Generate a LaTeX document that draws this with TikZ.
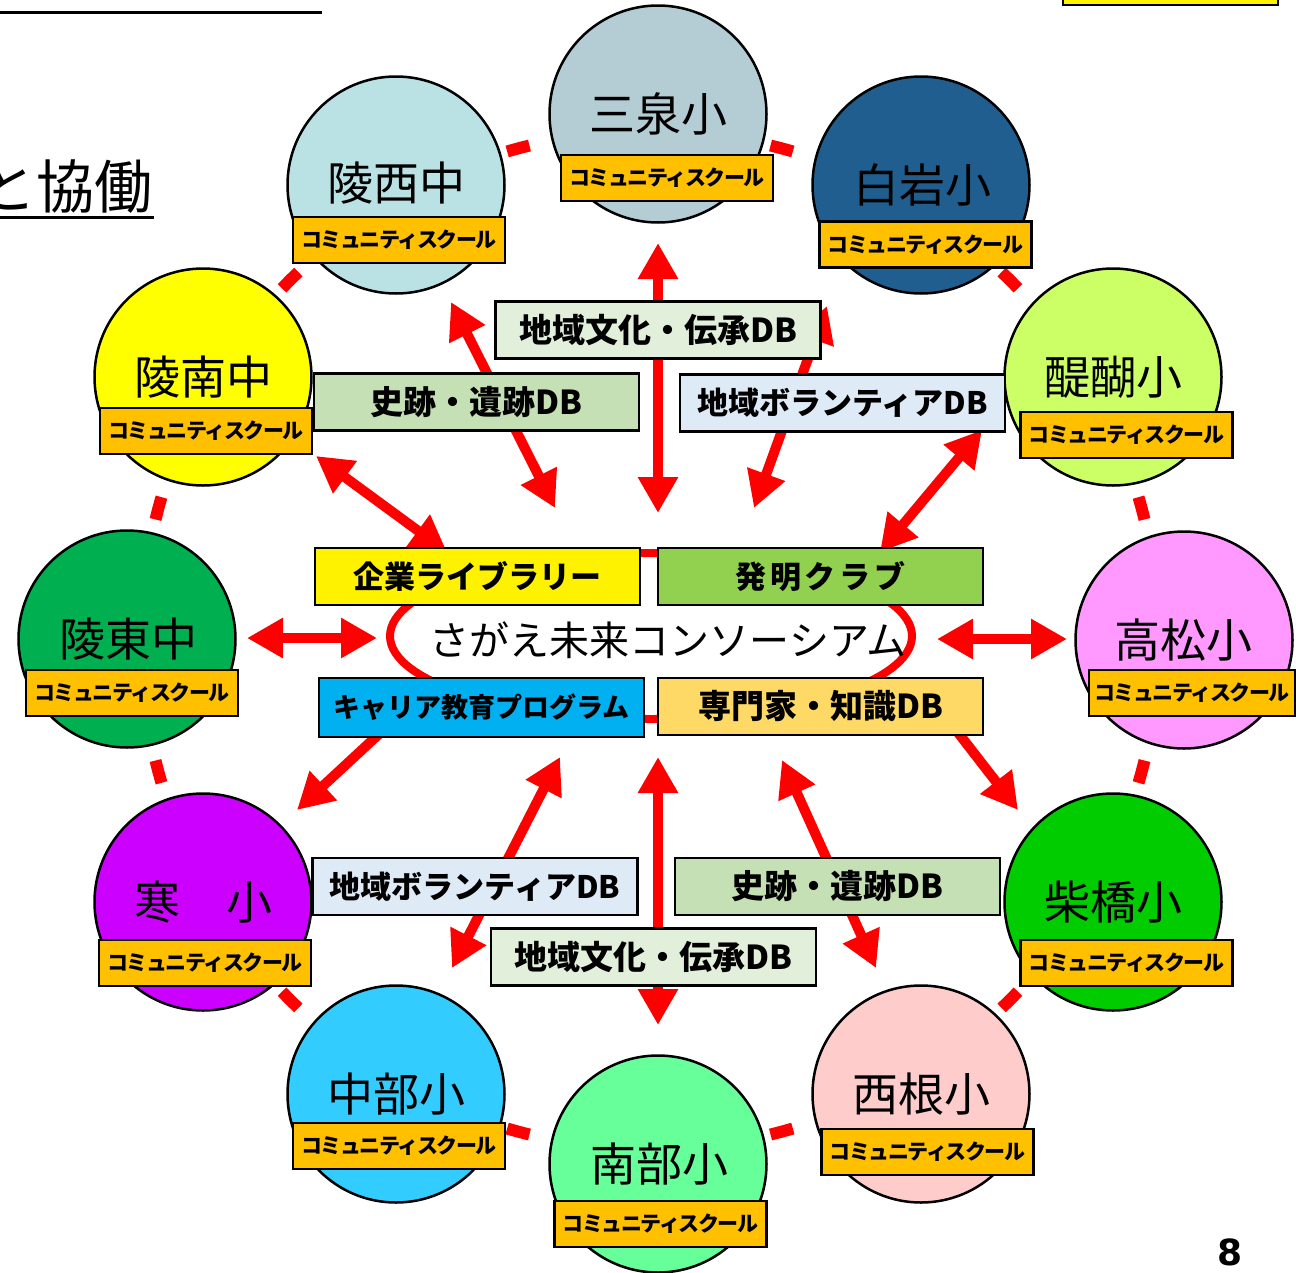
\documentclass[tikz,border=0pt]{standalone}
\usepackage{fontspec}
\setmainfont{Noto Sans CJK JP}
\newfontfamily\numfont{DejaVu Sans}
\usetikzlibrary{arrows.meta,shapes.geometric}
\definecolor{cSansen}{HTML}{B4CCD4}
\definecolor{cRyosei}{HTML}{BAE1E4}
\definecolor{cShiraiwa}{HTML}{1F5E8E}
\definecolor{cRyonan}{HTML}{FFFF00}
\definecolor{cDaigo}{HTML}{CCFF66}
\definecolor{cRyoto}{HTML}{00B050}
\definecolor{cTakamatsu}{HTML}{FF99FF}
\definecolor{cSamu}{HTML}{CC00FF}
\definecolor{cShiba}{HTML}{00CC00}
\definecolor{cChubu}{HTML}{33CCFF}
\definecolor{cNishine}{HTML}{FFCCCC}
\definecolor{cNanbu}{HTML}{66FF99}
\definecolor{cBadge}{HTML}{FFC000}
\definecolor{cCulture}{HTML}{E2EFDA}
\definecolor{cSite}{HTML}{C5E0B4}
\definecolor{cVol}{HTML}{DEEBF7}
\definecolor{cInv}{HTML}{92D050}
\definecolor{cCareer}{HTML}{00B0F0}
\definecolor{cExpert}{HTML}{FFD966}
\begin{document}
\begin{tikzpicture}[x=1pt,y=-1pt,
  school/.style={circle,draw=black,line width=2.5pt,minimum size=217pt,inner sep=0pt},
  sname/.style={inner sep=0pt,font=\fontsize{46}{46}\selectfont},
  badge/.style={draw=black,line width=2.5pt,fill=cBadge,minimum width=212pt,minimum height=46pt,inner sep=0pt,font=\fontsize{21}{21}\selectfont\bfseries\addfontfeature{LetterSpace=-7}},
  dbbox/.style={draw=black,line width=2.5pt,minimum width=325pt,minimum height=57pt,inner sep=0pt,font=\fontsize{33}{33}\selectfont\bfseries},
  arr/.style={red,line width=10pt,{Triangle[width=38pt,length=36pt]}-{Triangle[width=38pt,length=36pt]}},
  ring/.style={red,line width=12pt}
]
\useasboundingbox (0,0) rectangle (1296,1272);
\clip (0,0) rectangle (1296,1272);

% title fragments
\draw[line width=3pt] (0,12) -- (322,12);
\node[anchor=base east,inner sep=0pt,font=\fontsize{58}{58}\selectfont] (title) at (153,208) {と協働};
\draw[line width=3pt] (0,217) -- (154,217);
\draw[line width=2.5pt,fill=yellow] (1063,-20) rectangle (1278,5);

% dashed ring between the schools
\foreach \a in {15,45,...,345}
  \draw[ring] ([shift={(\a-1.3:509)}]650,640) arc[start angle=\a-1.3,end angle=\a+1.3,radius=509];

% schools
\newcommand\school[7]{%
  \node[school,fill=#3] (#1) at (#2) {};
  \node[sname] (#1N) at (#4) {#5};
  \node[badge,#7] (#1B) at (#6) {コミュニティスクール};
}
\school{sansen}{658,114}{cSansen}{658,114}{三泉小}{667,178}{}
\school{ryosei}{396,185}{cRyosei}{396,183}{陵西中}{399,240}{}
\school{shiraiwa}{921,185}{cShiraiwa}{922,185}{白岩小}{925.5,244.5}{}
\school{ryonan}{203,377}{cRyonan}{203,377}{陵南中}{206,431}{}
\school{daigo}{1113,377}{cDaigo}{1113,377}{醍醐小}{1126.5,435}{}
\school{ryoto}{127,639}{cRyoto}{128,639}{陵東中}{132,693}{}
\school{takamatsu}{1184,640}{cTakamatsu}{1183,640}{高松小}{1192,693}{minimum width=206pt}
\school{samu}{203,902}{cSamu}{203,902}{寒　小}{205,963}{}
\school{shiba}{1113,902}{cShiba}{1113,902}{柴橋小}{1126.5,963}{}
\school{chubu}{396,1094}{cChubu}{396,1094}{中部小}{399,1146}{}
\school{nishine}{921,1094}{cNishine}{921,1094}{西根小}{927.5,1152}{}
\school{nanbu}{658,1164}{cNanbu}{659,1164}{南部小}{660.5,1224}{}

% arrow end points
\coordinate (a1a) at (658,243);  \coordinate (a1b) at (658,513);
\coordinate (a2a) at (451,302);  \coordinate (a2b) at (555,508);
\coordinate (a3a) at (827,306);  \coordinate (a3b) at (754,508);
\coordinate (a4a) at (316,456);  \coordinate (a4b) at (447,552);
\coordinate (a5a) at (982,430);  \coordinate (a5b) at (880,552);
\coordinate (a6a) at (247,638);  \coordinate (a6b) at (377,638);
\coordinate (a7a) at (937,639);  \coordinate (a7b) at (1067,639);
\coordinate (a8a) at (420,696);  \coordinate (a8b) at (297,810);
\coordinate (a9a) at (925,690);  \coordinate (a9b) at (1018,810);
\coordinate (a10a) at (658,757); \coordinate (a10b) at (658,1025);
\coordinate (a11a) at (560,757); \coordinate (a11b) at (452,968);
\coordinate (a12a) at (782,760); \coordinate (a12b) at (876,968);
\foreach \i in {1,...,12} {\draw[arr] (a\i a) -- (a\i b);}

% consortium
\node[ellipse,draw=red,line width=8pt,minimum width=522pt,minimum height=166pt,inner sep=0pt] (consE) at (651,636) {};
\node[inner sep=0pt,font=\fontsize{40}{40}\selectfont] (cons) at (668,640) {さがえ未来コンソーシアム};

% central boxes
\node[dbbox,fill=yellow,font=\fontsize{31}{31}\selectfont\bfseries] (lib) at (477.5,576.5) {企業ライブラリー};
\node[dbbox,fill=cInv,font=\fontsize{31}{31}\selectfont\bfseries] (inv) at (820.5,576.5) {\addfontfeature{LetterSpace=12}発明クラブ};
\node[dbbox,fill=cCareer,minimum height=59pt,font=\fontsize{27}{27}\selectfont\bfseries] (career) at (481.5,707.5) {キャリア教育プログラム};
\node[dbbox,fill=cExpert] (expert) at (820.5,706.5) {専門家・知識DB};

% DB boxes
\node[dbbox,fill=cCulture] (cult1) at (658,330) {地域文化・伝承DB};
\node[dbbox,fill=cSite] (site1) at (476.5,402) {史跡・遺跡DB};
\node[dbbox,fill=cVol,font=\fontsize{31}{31}\selectfont\bfseries] (vol1) at (842.5,403) {地域ボランティアDB};
\node[dbbox,fill=cVol,font=\fontsize{31}{31}\selectfont\bfseries] (vol2) at (475,886.5) {地域ボランティアDB};
\node[dbbox,fill=cSite] (site2) at (837.5,886.5) {史跡・遺跡DB};
\node[dbbox,fill=cCulture] (cult2) at (653.5,957) {地域文化・伝承DB};

\node[inner sep=0pt,font=\numfont\bfseries\fontsize{36}{36}\selectfont] (page) at (1230,1252) {8};
\end{tikzpicture}
\end{document}
